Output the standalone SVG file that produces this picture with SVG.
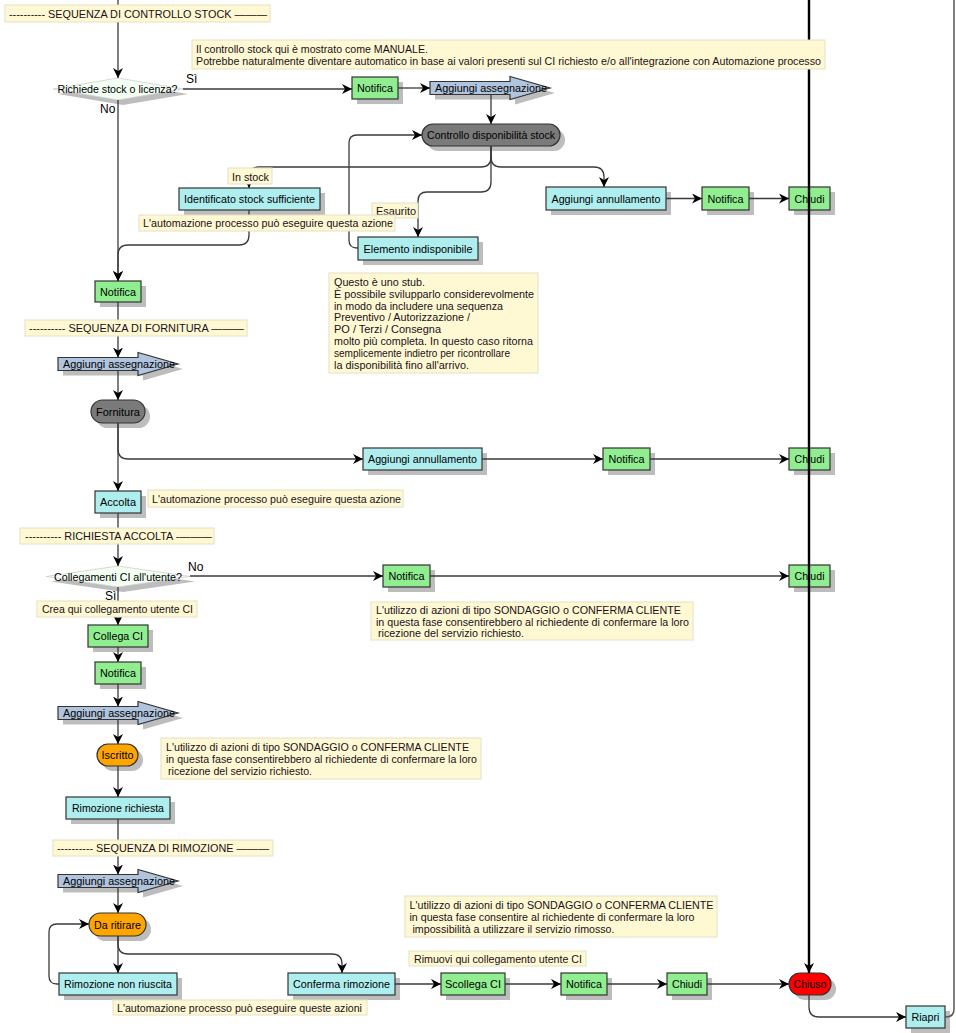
<svg xmlns="http://www.w3.org/2000/svg" width="956" height="1033" viewBox="0 0 956 1033">
<style>
text{font-family:"Liberation Sans",Arial,sans-serif;font-size:11.5px;fill:#000}
.t{text-anchor:middle}
.sh{fill:#bdbdbd;stroke:none}
.g{fill:#90EE90;stroke:#333;stroke-width:1.2}
.c{fill:#AFEEEE;stroke:#333;stroke-width:1.2}
.p{fill:#7a7a7a;stroke:#333;stroke-width:1.2}
.o{fill:#FFA500;stroke:#333;stroke-width:1.2}
.r{fill:#FF0000;stroke:#333;stroke-width:1.2}
.a{fill:#B0C4DE;stroke:#333;stroke-width:1.2}
.d{fill:#F2FFF2;stroke:#cfcfcf;stroke-width:0.8}
.nt{fill:#FFF9D3;stroke:#E4E0C4;stroke-width:1}
.tn{fill:#1a1020}
.lbl{font-size:12px}
.cn path{fill:none;stroke:#3a3a3a;stroke-width:1.3}
</style>
<defs>
<marker id="ah" markerWidth="11" markerHeight="10" refX="10" refY="5" orient="auto" markerUnits="userSpaceOnUse"><path d="M0,0 L10,5 L0,10 L3,5 z" fill="#000"/></marker>
</defs>
<rect width="956" height="1033" fill="#fff"/>

<!-- nodes -->
<g id="dec1"><polygon class="sh" transform="translate(5,5)" points="53,89 118,78 183,89 118,100"/><polygon class="d" points="53,89 118,78 183,89 118,100"/><text class="t" x="117.5" y="93" textLength="120" lengthAdjust="spacingAndGlyphs">Richiede stock o licenza?</text></g>
<g id="notifica1"><rect class="sh" x="357" y="82" width="46" height="22"/><rect class="g" x="352" y="77" width="46" height="22"/><text class="t" x="375" y="92" textLength="36" lengthAdjust="spacingAndGlyphs">Notifica</text></g>
<g id="agg1"><polygon class="sh" transform="translate(5,5)" points="430,81.5 510,81.5 510,76.5 550,88 510,99.5 510,94.5 430,94.5"/><polygon class="a" points="430,81.5 510,81.5 510,76.5 550,88 510,99.5 510,94.5 430,94.5"/><text x="435" y="92" textLength="112" lengthAdjust="spacingAndGlyphs">Aggiungi assegnazione</text></g>
<g id="controllo"><rect class="sh" x="427" y="129" width="138" height="22" rx="11"/><rect class="p" x="422" y="124" width="138" height="22" rx="11"/><text class="t" x="491" y="139" textLength="128" lengthAdjust="spacingAndGlyphs">Controllo disponibilità stock</text></g>
<g id="identificato"><rect class="sh" x="184" y="193" width="141" height="22"/><rect class="c" x="179" y="188" width="141" height="22"/><text class="t" x="249.5" y="203" textLength="131" lengthAdjust="spacingAndGlyphs">Identificato stock sufficiente</text></g>
<g id="elemento"><rect class="sh" x="363" y="242" width="120" height="23"/><rect class="c" x="358" y="237" width="120" height="23"/><text class="t" x="418" y="252.5" textLength="109" lengthAdjust="spacingAndGlyphs">Elemento indisponibile</text></g>
<g id="annull1"><rect class="sh" x="551" y="192" width="120" height="23"/><rect class="c" x="546" y="187" width="120" height="23"/><text class="t" x="606" y="202.5" textLength="109" lengthAdjust="spacingAndGlyphs">Aggiungi annullamento</text></g>
<g id="notifica1b"><rect class="sh" x="707" y="192" width="47" height="23"/><rect class="g" x="702" y="187" width="47" height="23"/><text class="t" x="725.5" y="202.5" textLength="36" lengthAdjust="spacingAndGlyphs">Notifica</text></g>
<g id="chiudi1"><rect class="sh" x="794" y="192" width="41" height="23"/><rect class="g" x="789" y="187" width="41" height="23"/><text class="t" x="809.5" y="202.5" textLength="30" lengthAdjust="spacingAndGlyphs">Chiudi</text></g>
<g id="notifica2"><rect class="sh" x="100" y="286" width="46" height="21"/><rect class="g" x="95" y="281" width="46" height="21"/><text class="t" x="118" y="295.5" textLength="36" lengthAdjust="spacingAndGlyphs">Notifica</text></g>
<g id="agg2"><polygon class="sh" transform="translate(5,5)" points="58,357.5 138,357.5 138,352.5 178,364 138,375.5 138,370.5 58,370.5"/><polygon class="a" points="58,357.5 138,357.5 138,352.5 178,364 138,375.5 138,370.5 58,370.5"/><text x="63" y="368" textLength="112" lengthAdjust="spacingAndGlyphs">Aggiungi assegnazione</text></g>
<g id="fornitura"><rect class="sh" x="96" y="405" width="54" height="23" rx="11.5"/><rect class="p" x="91" y="400" width="54" height="23" rx="11.5"/><text class="t" x="118" y="415.5" textLength="44" lengthAdjust="spacingAndGlyphs">Fornitura</text></g>
<g id="annull2"><rect class="sh" x="368" y="453" width="119" height="22"/><rect class="c" x="363" y="448" width="119" height="22"/><text class="t" x="422.5" y="463" textLength="109" lengthAdjust="spacingAndGlyphs">Aggiungi annullamento</text></g>
<g id="notifica2b"><rect class="sh" x="608" y="453" width="47" height="22"/><rect class="g" x="603" y="448" width="47" height="22"/><text class="t" x="626.5" y="463" textLength="36" lengthAdjust="spacingAndGlyphs">Notifica</text></g>
<g id="chiudi2"><rect class="sh" x="794" y="453" width="41" height="22"/><rect class="g" x="789" y="448" width="41" height="22"/><text class="t" x="809.5" y="463" textLength="30" lengthAdjust="spacingAndGlyphs">Chiudi</text></g>
<g id="accolta"><rect class="sh" x="100" y="496" width="46" height="22"/><rect class="c" x="95" y="491" width="46" height="22"/><text class="t" x="118" y="506" textLength="36" lengthAdjust="spacingAndGlyphs">Accolta</text></g>
<g id="dec2"><polygon class="sh" transform="translate(5,5)" points="46,576.5 118,566 190,576.5 118,587"/><polygon class="d" points="46,576.5 118,566 190,576.5 118,587"/><text class="t" x="118" y="580.5" textLength="128" lengthAdjust="spacingAndGlyphs">Collegamenti CI all'utente?</text></g>
<g id="notifica3"><rect class="sh" x="388" y="570" width="47" height="22"/><rect class="g" x="383" y="565" width="47" height="22"/><text class="t" x="406.5" y="580" textLength="36" lengthAdjust="spacingAndGlyphs">Notifica</text></g>
<g id="chiudi3"><rect class="sh" x="794" y="570" width="41" height="22"/><rect class="g" x="789" y="565" width="41" height="22"/><text class="t" x="809.5" y="580" textLength="30" lengthAdjust="spacingAndGlyphs">Chiudi</text></g>
<g id="collega"><rect class="sh" x="93" y="630" width="60" height="22"/><rect class="g" x="88" y="625" width="60" height="22"/><text class="t" x="118" y="640" textLength="50" lengthAdjust="spacingAndGlyphs">Collega CI</text></g>
<g id="notifica4"><rect class="sh" x="100" y="667" width="46" height="22"/><rect class="g" x="95" y="662" width="46" height="22"/><text class="t" x="118" y="677" textLength="36" lengthAdjust="spacingAndGlyphs">Notifica</text></g>
<g id="agg3"><polygon class="sh" transform="translate(5,5)" points="58,706.5 138,706.5 138,701.5 178,713 138,724.5 138,719.5 58,719.5"/><polygon class="a" points="58,706.5 138,706.5 138,701.5 178,713 138,724.5 138,719.5 58,719.5"/><text x="63" y="717" textLength="112" lengthAdjust="spacingAndGlyphs">Aggiungi assegnazione</text></g>
<g id="iscritto"><rect class="sh" x="102" y="749" width="41" height="22" rx="11"/><rect class="o" x="97" y="744" width="41" height="22" rx="11"/><text class="t" x="117.5" y="759" textLength="32" lengthAdjust="spacingAndGlyphs">Iscritto</text></g>
<g id="rimrich"><rect class="sh" x="71" y="802" width="104" height="22"/><rect class="c" x="66" y="797" width="104" height="22"/><text class="t" x="118" y="812" textLength="92" lengthAdjust="spacingAndGlyphs">Rimozione richiesta</text></g>
<g id="agg4"><polygon class="sh" transform="translate(5,5)" points="58,874.5 138,874.5 138,869.5 178,881 138,892.5 138,887.5 58,887.5"/><polygon class="a" points="58,874.5 138,874.5 138,869.5 178,881 138,892.5 138,887.5 58,887.5"/><text x="63" y="885" textLength="112" lengthAdjust="spacingAndGlyphs">Aggiungi assegnazione</text></g>
<g id="daritirare"><rect class="sh" x="94" y="918" width="57" height="23" rx="11.5"/><rect class="o" x="89" y="913" width="57" height="23" rx="11.5"/><text class="t" x="117.5" y="928.5" textLength="47" lengthAdjust="spacingAndGlyphs">Da ritirare</text></g>
<g id="rimnon"><rect class="sh" x="64" y="978" width="118" height="22"/><rect class="c" x="59" y="973" width="118" height="22"/><text class="t" x="118" y="988" textLength="108" lengthAdjust="spacingAndGlyphs">Rimozione non riuscita</text></g>
<g id="conferma"><rect class="sh" x="293" y="978" width="107" height="22"/><rect class="c" x="288" y="973" width="107" height="22"/><text class="t" x="341.5" y="988" textLength="97" lengthAdjust="spacingAndGlyphs">Conferma rimozione</text></g>
<g id="scollega"><rect class="sh" x="446" y="978" width="64" height="22"/><rect class="g" x="441" y="973" width="64" height="22"/><text class="t" x="473" y="988" textLength="56" lengthAdjust="spacingAndGlyphs">Scollega CI</text></g>
<g id="notifica5"><rect class="sh" x="566" y="978" width="46" height="22"/><rect class="g" x="561" y="973" width="46" height="22"/><text class="t" x="584" y="988" textLength="36" lengthAdjust="spacingAndGlyphs">Notifica</text></g>
<g id="chiudi4"><rect class="sh" x="672" y="978" width="40" height="22"/><rect class="g" x="667" y="973" width="40" height="22"/><text class="t" x="687" y="988" textLength="30" lengthAdjust="spacingAndGlyphs">Chiudi</text></g>
<g id="chiuso"><rect class="sh" x="794" y="978" width="42" height="22" rx="11"/><rect class="r" x="789" y="973" width="42" height="22" rx="11"/><text class="t" x="810" y="988" textLength="33" lengthAdjust="spacingAndGlyphs">Chiuso</text></g>
<g id="riapri"><rect class="sh" x="911" y="1011" width="39" height="22"/><rect class="c" x="906" y="1006" width="39" height="22"/><text class="t" x="925.5" y="1021" textLength="28" lengthAdjust="spacingAndGlyphs">Riapri</text></g>

<!-- connectors -->
<g id="connectors" class="cn">
<path d="M118,0 V78" marker-end="url(#ah)"/>
<path d="M183,89 H352" marker-end="url(#ah)"/>
<path d="M398,88 H430" marker-end="url(#ah)"/>
<path d="M491,95 V124" marker-end="url(#ah)"/>
<path d="M491,146 V157 Q491,167 481,167 H259 Q249,167 249,177 V188" marker-end="url(#ah)"/>
<path d="M491,146 V157 Q491,167 501,167 H594 Q604,167 604,177 V187" marker-end="url(#ah)"/>
<path d="M491,146 V182 Q491,192 481,192 H427 Q418,192 418,201 V237" marker-end="url(#ah)"/>
<path d="M358,248 H357 Q349,248 349,240 V143 Q349,135 357,135 H422" marker-end="url(#ah)"/>
<path d="M249,210 V235 Q249,245 239,245 H128 Q118,245 118,255 V281" marker-end="url(#ah)"/>
<path d="M118,100 V281" marker-end="url(#ah)"/>
<path d="M666,198.5 H702" marker-end="url(#ah)"/>
<path d="M749,198.5 H789" marker-end="url(#ah)"/>
<path d="M118,302 V357.5" marker-end="url(#ah)"/>
<path d="M118,370.5 V400" marker-end="url(#ah)"/>
<path d="M118,423 V491" marker-end="url(#ah)"/>
<path d="M118,423 V449 Q118,459 128,459 H363" marker-end="url(#ah)"/>
<path d="M482,459 H603" marker-end="url(#ah)"/>
<path d="M650,459 H789" marker-end="url(#ah)"/>
<path d="M118,513 V566" marker-end="url(#ah)"/>
<path d="M190,576 H383" marker-end="url(#ah)"/>
<path d="M430,576 H789" marker-end="url(#ah)"/>
<path d="M118,587 V625" marker-end="url(#ah)"/>
<path d="M118,647 V662" marker-end="url(#ah)"/>
<path d="M118,684 V706.5" marker-end="url(#ah)"/>
<path d="M118,719.5 V744" marker-end="url(#ah)"/>
<path d="M118,766 V797" marker-end="url(#ah)"/>
<path d="M118,819 V874.5" marker-end="url(#ah)"/>
<path d="M118,887.5 V913" marker-end="url(#ah)"/>
<path d="M118,936 V973" marker-end="url(#ah)"/>
<path d="M118,936 V944 Q118,954 128,954 H332 Q342,954 342,964 V973" marker-end="url(#ah)"/>
<path d="M59,984 H57 Q49,984 49,976 V932 Q49,924 57,924 H89" marker-end="url(#ah)"/>
<path d="M395,984 H441" marker-end="url(#ah)"/>
<path d="M505,984 H561" marker-end="url(#ah)"/>
<path d="M607,984 H667" marker-end="url(#ah)"/>
<path d="M707,984 H789" marker-end="url(#ah)"/>
<path d="M809,0 V973" style="stroke:#000;stroke-width:2.4" marker-end="url(#ah)"/>
<path d="M809,995 V1007 Q809,1017 819,1017 H906" marker-end="url(#ah)"/>
<path d="M945,1017 H946 Q954,1017 954,1009 V0" style="stroke:#555;stroke-width:1.5"/>
</g>

<!-- edge labels -->
<g id="edge-labels">
<text class="lbl" x="186" y="83">Sì</text>
<text class="lbl" x="100" y="113">No</text>
<text class="lbl" x="188" y="571">No</text>
<text class="lbl" x="105" y="600">Sì</text>
</g>

<!-- notes and section labels -->
<g id="note-top"><rect class="nt" x="192" y="40" width="633" height="29"/><text class="tn" x="196" y="53" textLength="232" lengthAdjust="spacingAndGlyphs">Il controllo stock qui è mostrato come MANUALE.</text><text class="tn" x="196" y="64.5" textLength="625" lengthAdjust="spacingAndGlyphs">Potrebbe naturalmente diventare automatico in base ai valori presenti sul CI richiesto e/o all'integrazione con Automazione processo</text></g>
<g id="lbl-ctrl"><rect class="nt" x="5" y="5" width="265" height="17"/><text class="tn" x="9" y="18" textLength="258" lengthAdjust="spacingAndGlyphs">---------- SEQUENZA DI CONTROLLO STOCK ———</text></g>
<g id="lbl-instock"><rect class="nt" x="228" y="168" width="44" height="16"/><text class="tn" x="232" y="181" textLength="37" lengthAdjust="spacingAndGlyphs">In stock</text></g>
<g id="lbl-esaurito"><rect class="nt" x="372" y="203" width="46" height="15"/><text class="tn" x="376" y="215" textLength="40" lengthAdjust="spacingAndGlyphs">Esaurito</text></g>
<g id="note-auto1"><rect class="nt" x="139" y="215" width="256" height="16"/><text class="tn" x="143" y="227" textLength="250" lengthAdjust="spacingAndGlyphs">L'automazione processo può eseguire questa azione</text></g>
<g id="note-stub"><rect class="nt" x="329" y="273" width="209" height="100"/>
<text class="tn" x="334" y="286" textLength="91" lengthAdjust="spacingAndGlyphs">Questo è uno stub.</text>
<text class="tn" x="334" y="297.8" textLength="200" lengthAdjust="spacingAndGlyphs">È possibile svilupparlo considerevolmente</text>
<text class="tn" x="334" y="309.6" textLength="169" lengthAdjust="spacingAndGlyphs">in modo da includere una sequenza</text>
<text class="tn" x="334" y="321.4" textLength="136" lengthAdjust="spacingAndGlyphs">Preventivo / Autorizzazione /</text>
<text class="tn" x="334" y="333.2" textLength="107" lengthAdjust="spacingAndGlyphs">PO / Terzi / Consegna</text>
<text class="tn" x="334" y="345" textLength="199" lengthAdjust="spacingAndGlyphs">molto più completa. In questo caso ritorna</text>
<text class="tn" x="334" y="356.8" textLength="176" lengthAdjust="spacingAndGlyphs">semplicemente indietro per ricontrollare</text>
<text class="tn" x="334" y="368.6" textLength="135" lengthAdjust="spacingAndGlyphs">la disponibilità fino all'arrivo.</text></g>
<g id="lbl-forn"><rect class="nt" x="25" y="320" width="222" height="16"/><text class="tn" x="29" y="332" textLength="215" lengthAdjust="spacingAndGlyphs">---------- SEQUENZA DI FORNITURA ———</text></g>
<g id="note-auto2"><rect class="nt" x="148" y="490" width="255" height="17"/><text class="tn" x="152" y="502.5" textLength="249" lengthAdjust="spacingAndGlyphs">L'automazione processo può eseguire questa azione</text></g>
<g id="lbl-accolta"><rect class="nt" x="20" y="528" width="194" height="16"/><text class="tn" x="25" y="540" textLength="187" lengthAdjust="spacingAndGlyphs">---------- RICHIESTA ACCOLTA -———</text></g>
<g id="note-crea"><rect class="nt" x="37" y="601" width="160" height="16"/><text class="tn" x="42" y="613" textLength="151" lengthAdjust="spacingAndGlyphs">Crea qui collegamento utente CI</text></g>
<g id="note-sond1"><rect class="nt" x="371" y="602" width="322" height="38"/>
<text class="tn" x="376" y="614" textLength="305" lengthAdjust="spacingAndGlyphs">L'utilizzo di azioni di tipo SONDAGGIO o CONFERMA CLIENTE</text>
<text class="tn" x="376" y="626" textLength="313" lengthAdjust="spacingAndGlyphs">in questa fase consentirebbero al richiedente di confermare la loro</text>
<text class="tn" x="378" y="637" textLength="146" lengthAdjust="spacingAndGlyphs">ricezione del servizio richiesto.</text></g>
<g id="note-sond2"><rect class="nt" x="161" y="738" width="320" height="41"/>
<text class="tn" x="166" y="751" textLength="303" lengthAdjust="spacingAndGlyphs">L'utilizzo di azioni di tipo SONDAGGIO o CONFERMA CLIENTE</text>
<text class="tn" x="166" y="763" textLength="311" lengthAdjust="spacingAndGlyphs">in questa fase consentirebbero al richiedente di confermare la loro</text>
<text class="tn" x="168" y="775" textLength="144" lengthAdjust="spacingAndGlyphs">ricezione del servizio richiesto.</text></g>
<g id="lbl-rim"><rect class="nt" x="53" y="840" width="220" height="16"/><text class="tn" x="57" y="852" textLength="212" lengthAdjust="spacingAndGlyphs">---------- SEQUENZA DI RIMOZIONE ———</text></g>
<g id="note-sond3"><rect class="nt" x="405" y="896" width="312" height="41"/>
<text class="tn" x="409.5" y="909" textLength="304" lengthAdjust="spacingAndGlyphs">L'utilizzo di azioni di tipo SONDAGGIO o CONFERMA CLIENTE</text>
<text class="tn" x="409.5" y="921" textLength="285" lengthAdjust="spacingAndGlyphs">in questa fase consentire al richiedente di confermare la loro</text>
<text class="tn" x="412.5" y="933" textLength="202" lengthAdjust="spacingAndGlyphs">impossibilità a utilizzare il servizio rimosso.</text></g>
<g id="note-rimuovi"><rect class="nt" x="409" y="951" width="177" height="15"/><text class="tn" x="414" y="963" textLength="168" lengthAdjust="spacingAndGlyphs">Rimuovi qui collegamento utente CI</text></g>
<g id="note-auto3"><rect class="nt" x="113" y="1000" width="254" height="15"/><text class="tn" x="117" y="1012" textLength="245" lengthAdjust="spacingAndGlyphs">L'automazione processo può eseguire queste azioni</text></g>
</svg>
